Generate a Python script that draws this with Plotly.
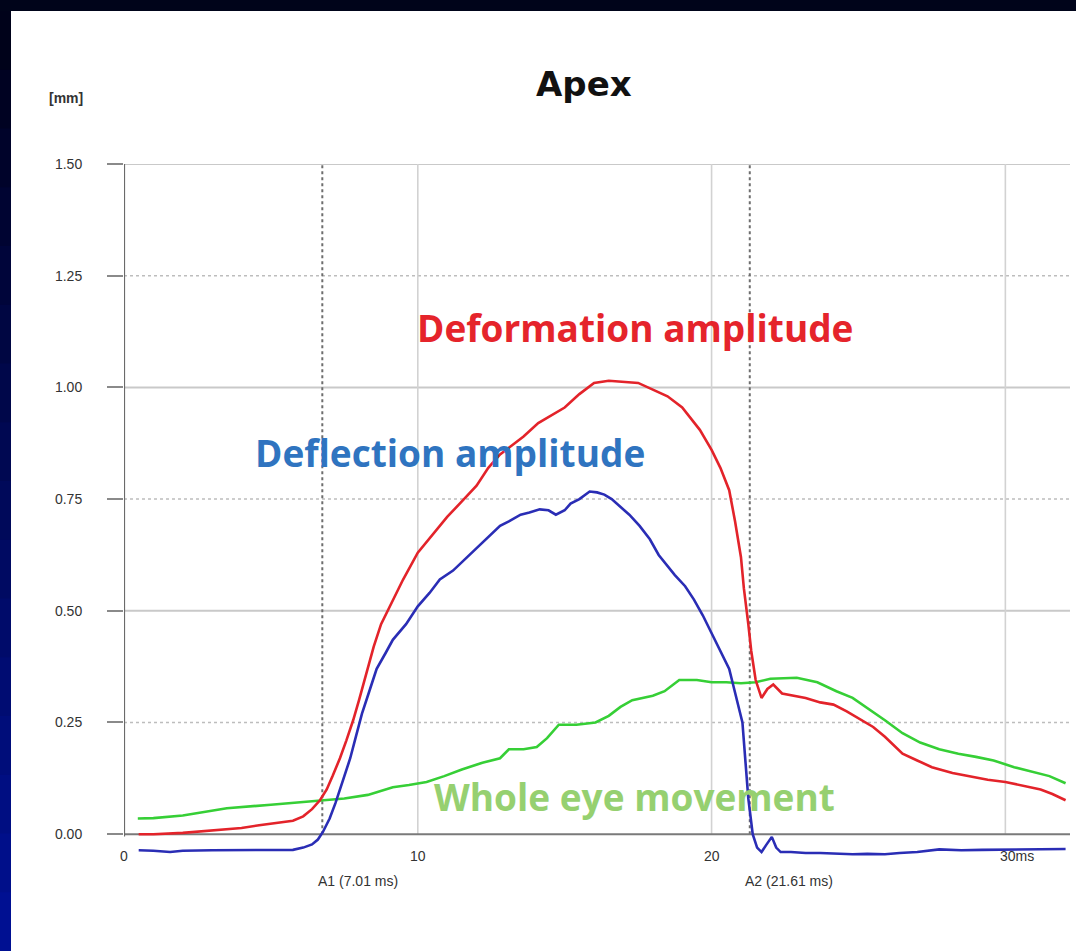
import plotly.graph_objects as go

# ---------------- data ----------------
red_x = [0.5, 1, 2, 3, 4, 4.6, 5.2, 5.75, 6.1, 6.4, 6.67, 6.9, 7.1, 7.35, 7.57, 7.8, 8.0, 8.25, 8.5, 8.75, 9.05,
         9.5, 10, 10.5, 11, 11.5, 12, 12.4, 12.8, 13.2, 13.6, 14.1, 14.5, 15, 15.5, 16, 16.5, 17, 17.5, 18,
         18.5, 19, 19.6, 20.0, 20.3, 20.6, 20.8, 21.0, 21.1, 21.25, 21.35, 21.5, 21.7, 21.9, 22.1, 22.4,
         22.75, 23.2, 23.7, 24.15, 24.6, 25.0, 25.5, 25.9, 26.5, 27.0, 27.5, 28.2, 28.8, 29.4, 30.0, 30.6,
         31.2, 31.6, 32.05]
red_y = [0.0, 0.0, 0.003, 0.008, 0.014, 0.02, 0.025, 0.03, 0.04, 0.056, 0.076, 0.1, 0.13, 0.17, 0.21, 0.255,
         0.30, 0.36, 0.42, 0.47, 0.51, 0.57, 0.63, 0.67, 0.71, 0.745, 0.78, 0.82, 0.85, 0.87, 0.89, 0.92,
         0.935, 0.955, 0.985, 1.01, 1.015, 1.012, 1.01, 0.995, 0.98, 0.955, 0.905, 0.86, 0.82, 0.77, 0.70,
         0.62, 0.55, 0.47, 0.41, 0.345, 0.305, 0.325, 0.335, 0.315, 0.31, 0.305, 0.295, 0.29, 0.275, 0.26,
         0.24, 0.218, 0.18, 0.165, 0.15, 0.137, 0.13, 0.122, 0.117, 0.108, 0.1, 0.09, 0.076]

blue_x = [0.5, 1, 1.57, 2, 3, 4, 5, 5.75, 6.1, 6.4, 6.6, 6.77, 7.0, 7.2, 7.45, 7.7, 7.9, 8.1, 8.35, 8.6, 8.9,
          9.15, 9.6, 10, 10.4, 10.75, 11.2, 11.6, 12, 12.4, 12.8, 13.1, 13.5, 13.8, 14.15, 14.45, 14.7, 15.0,
          15.2, 15.5, 15.85, 16.1, 16.35, 16.6, 16.9, 17.2, 17.55, 17.9, 18.2, 18.5, 18.75, 19.1, 19.4, 19.7,
          20.0, 20.3, 20.6, 20.75, 20.9, 21.05, 21.25, 21.4, 21.55, 21.7, 21.85, 22.05, 22.2, 22.35, 22.7, 23.2,
          23.7, 24.3, 24.8, 25.3, 25.9, 26.4, 27.0, 27.75, 28.5, 29.2, 30.0, 30.8, 31.5, 32.05]
blue_y = [-0.036, -0.037, -0.04, -0.037, -0.036, -0.036, -0.036, -0.035, -0.03, -0.023, -0.012, 0.005, 0.035,
          0.07, 0.12, 0.17, 0.22, 0.27, 0.32, 0.37, 0.405, 0.435, 0.47, 0.51, 0.54, 0.57, 0.59, 0.615, 0.64,
          0.665, 0.69, 0.70, 0.715, 0.72, 0.727, 0.725, 0.715, 0.725, 0.74, 0.75, 0.767, 0.765, 0.76, 0.75,
          0.733, 0.715, 0.69, 0.66, 0.625, 0.60, 0.58, 0.555, 0.525, 0.49, 0.45, 0.41, 0.37, 0.33, 0.29, 0.25,
          0.08, 0.0, -0.03, -0.04, -0.025, -0.006, -0.03, -0.04, -0.04, -0.042, -0.042, -0.044, -0.045, -0.044,
          -0.045, -0.042, -0.04, -0.034, -0.036, -0.035, -0.034, -0.034, -0.033, -0.033]

green_x = [0.47, 1, 2, 3.5, 5, 6.67, 7.5, 8.3, 9.15, 9.7, 10.3, 10.9, 11.5, 12.2, 12.8, 13.1, 13.6, 14.05, 14.4,
           14.8, 15.4, 16.05, 16.5, 16.9, 17.3, 18.0, 18.4, 18.9, 19.5, 20.0, 20.5, 21.0, 21.5, 22.0, 22.9, 23.6,
           24.25, 24.8, 25.25, 25.9, 26.5, 27.1, 27.75, 28.4, 29.0, 29.6, 30.3, 30.9, 31.5, 32.05]
green_y = [0.035, 0.036, 0.042, 0.058, 0.066, 0.076, 0.08, 0.088, 0.105, 0.11, 0.117, 0.13, 0.145, 0.16, 0.17,
           0.19, 0.19, 0.195, 0.215, 0.245, 0.245, 0.25, 0.265, 0.285, 0.30, 0.31, 0.32, 0.345, 0.345, 0.34,
           0.34, 0.338, 0.34, 0.348, 0.35, 0.34, 0.32, 0.305, 0.285, 0.255, 0.226, 0.205, 0.19, 0.18, 0.173,
           0.165, 0.15, 0.14, 0.13, 0.114]

y_tickvals = [0, 0.25, 0.5, 0.75, 1.0, 1.25, 1.5]
y_ticktext = ["0.00", "0.25", "0.50", "0.75", "1.00", "1.25", "1.50"]
x_tickvals = [0, 10, 20, 30]
x_ticktext = ["0", "10", "20", "30ms"]
a1_x, a1_label = 6.75, "A1 (7.01 ms)"
a2_x, a2_label = 21.3, "A2 (21.61 ms)"

# ---------------- layout geometry ----------------
W, H = 1076, 951
L, R, T, B = 124, 6, 164, 90
XR = [0, 32.2]
YR = [-0.06, 1.5]
pw, ph = W - L - R, H - T - B


def px(xp):
    return (xp - L) / pw


def py(yp):
    return (H - B - yp) / ph


fig = go.Figure()

RED = "#e3232a"
BLUE = "#2a2db5"
GREEN = "#36cf36"

fig.add_trace(go.Scatter(x=green_x, y=green_y, mode="lines", line=dict(color=GREEN, width=2.6),
                         showlegend=False, hoverinfo="skip"))
fig.add_trace(go.Scatter(x=red_x, y=red_y, mode="lines", line=dict(color=RED, width=2.6),
                         showlegend=False, hoverinfo="skip"))
fig.add_trace(go.Scatter(x=blue_x, y=blue_y, mode="lines", line=dict(color=BLUE, width=2.6),
                         showlegend=False, hoverinfo="skip"))

shapes = []
# white panel
shapes.append(dict(type="rect", xref="paper", yref="paper", x0=px(11), x1=px(1090), y0=py(960), y1=py(11),
                   fillcolor="white", line=dict(width=0), layer="below"))
# left strip gradient (navy -> blue)
nb = 16
for i in range(nb):
    t = i / (nb - 1)
    g = int(2 + 14 * t)
    b = int(26 + 120 * t)
    y0 = 11 + (H - 11) * i / nb
    y1 = 11 + (H - 11) * (i + 1) / nb
    shapes.append(dict(type="rect", xref="paper", yref="paper", x0=px(-2), x1=px(11), y0=py(y1 + 1), y1=py(y0),
                       fillcolor=f"rgb(0,{g},{b})", line=dict(width=0), layer="below"))

# horizontal grid
for v in [0.5, 1.0, 1.5]:
    shapes.append(dict(type="line", xref="x", yref="y", x0=0, x1=XR[1], y0=v, y1=v,
                       line=dict(color="#c9c9c9", width=2), layer="below"))
for v in [0.25, 0.75, 1.25]:
    shapes.append(dict(type="line", xref="x", yref="y", x0=0, x1=XR[1], y0=v, y1=v,
                       line=dict(color="#bdbdbd", width=1.5, dash="dot"), layer="below"))
# vertical grid
for v in [10, 20, 30]:
    shapes.append(dict(type="line", xref="x", yref="y", x0=v, x1=v, y0=0, y1=1.5,
                       line=dict(color="#d2d2d2", width=1.6), layer="below"))
# A1 / A2 markers
for v in [a1_x, a2_x]:
    shapes.append(dict(type="line", xref="x", yref="y", x0=v, x1=v, y0=0, y1=1.5,
                       line=dict(color="#6e6e6e", width=2, dash="dot"), layer="below"))
# zero line and y axis line
shapes.append(dict(type="line", xref="x", yref="y", x0=0, x1=XR[1], y0=0, y1=0,
                   line=dict(color="#7a7a7a", width=2), layer="below"))
shapes.append(dict(type="line", xref="x", yref="y", x0=0, x1=0, y0=-0.005, y1=1.5,
                   line=dict(color="#6a6a6a", width=2.2), layer="below"))

annotations = []
# title and unit
annotations.append(dict(text="<b>Apex</b>", xref="paper", yref="paper", x=px(584), y=py(84),
                        showarrow=False, xanchor="center", yanchor="middle",
                        font=dict(family="DejaVu Sans", size=34, color="#111111")))
annotations.append(dict(text="<b>[mm]</b>", xref="paper", yref="paper", x=px(66), y=py(98),
                        showarrow=False, xanchor="center", yanchor="middle",
                        font=dict(family="Liberation Sans, Arial", size=14, color="#333333")))
# x tick labels
for v, t in zip(x_tickvals, x_ticktext):
    xa = "left" if t.endswith("ms") else "center"
    xx = v - 0.25 if t.endswith("ms") else v
    annotations.append(dict(text=t, xref="x", yref="paper", x=xx, y=py(856), showarrow=False,
                            xanchor=xa, yanchor="middle",
                            font=dict(family="Liberation Sans, Arial", size=14, color="#333333")))
annotations.append(dict(text=a1_label, xref="paper", yref="paper", x=px(358), y=py(881), showarrow=False,
                        xanchor="center", yanchor="middle",
                        font=dict(family="Liberation Sans, Arial", size=14, color="#333333")))
annotations.append(dict(text=a2_label, xref="paper", yref="paper", x=px(789), y=py(881), showarrow=False,
                        xanchor="center", yanchor="middle",
                        font=dict(family="Liberation Sans, Arial", size=14, color="#333333")))
# series labels
LBL_FONT = "Open Sans"
annotations.append(dict(text="<b>Deformation amplitude</b>", xref="paper", yref="paper", x=px(635), y=py(327),
                        showarrow=False, xanchor="center", yanchor="middle",
                        font=dict(family=LBL_FONT, size=37, color="#e5242b")))
annotations.append(dict(text="<b>Deflection amplitude</b>", xref="paper", yref="paper", x=px(450), y=py(452),
                        showarrow=False, xanchor="center", yanchor="middle",
                        font=dict(family=LBL_FONT, size=37, color="#2f74c0")))
annotations.append(dict(text="<b>Whole eye movement</b>", xref="paper", yref="paper", x=px(634), y=py(796),
                        showarrow=False, xanchor="center", yanchor="middle",
                        font=dict(family=LBL_FONT, size=37, color="#96d070")))

fig.update_layout(
    width=W, height=H,
    margin=dict(l=L, r=R, t=T, b=B, pad=0),
    paper_bgcolor="#00041a",
    plot_bgcolor="white",
    shapes=shapes,
    annotations=annotations,
    showlegend=False,
    xaxis=dict(range=XR, showgrid=False, zeroline=False, showline=False, showticklabels=False, ticks=""),
    yaxis=dict(range=YR, showgrid=False, zeroline=False, showline=False,
               tickmode="array", tickvals=y_tickvals, ticktext=y_ticktext,
               ticks="outside", ticklen=16, tickwidth=1.5, tickcolor="#8a8a8a",
               ticklabelstandoff=22,
               tickfont=dict(family="Liberation Sans, Arial", size=14, color="#333333")),
)

fig.write_html("out.html")
